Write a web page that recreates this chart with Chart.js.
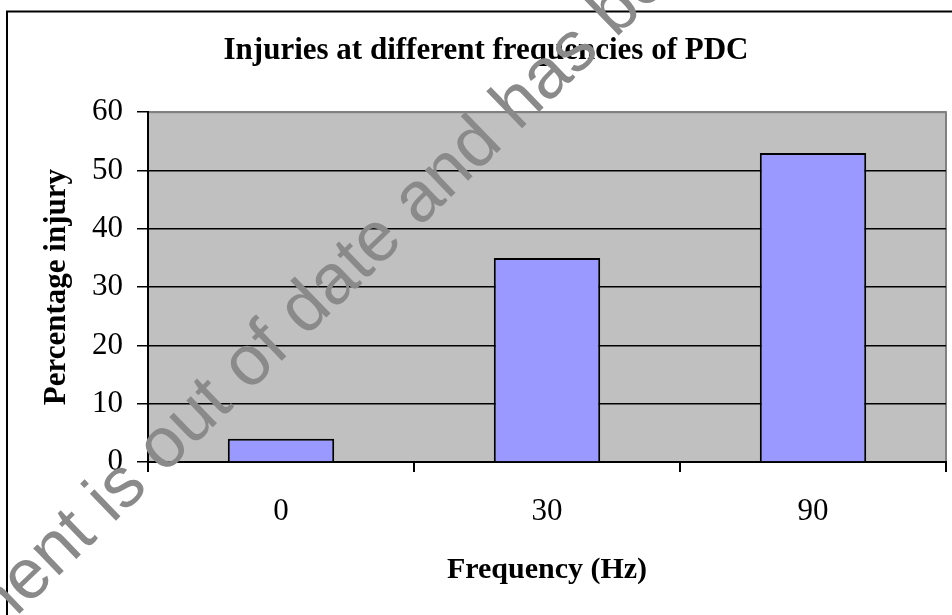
<!DOCTYPE html>
<html>
<head>
<meta charset="utf-8">
<script src="https://cdn.jsdelivr.net/npm/chart.js@4.4.1/dist/chart.umd.min.js"></script>
<style>
  html, body { margin: 0; padding: 0; background: #fff; }
  #wrap { width: 952px; height: 615px; }
</style>
</head>
<body>
<div id="wrap"><canvas id="injuryChart" width="952" height="615"></canvas></div>
<script>
// data
const frequencies = ['0', '30', '90'];
const injuryPercent = [4, 35, 53];
const yTicks = [0, 10, 20, 30, 40, 50, 60];

const chartTitle = 'Injuries at different frequencies of PDC';
const xTitle = 'Frequency (Hz)';
const yTitle = 'Percentage injury';
const watermarkText = 'document is out of date and has been';

const serif = "'Liberation Serif', 'Times New Roman', serif";

// outer frame + grey plot background
const backdrop = {
    id: 'backdrop',
    beforeDraw(chart) {
        const { ctx, chartArea } = chart;
        ctx.save();
        ctx.strokeStyle = '#000';
        ctx.lineWidth = 2;
        ctx.strokeRect(7, 11.5, 2000, 2000);
        ctx.fillStyle = '#c0c0c0';
        ctx.fillRect(chartArea.left, chartArea.top, chartArea.right - chartArea.left, chartArea.bottom - chartArea.top);
        ctx.strokeStyle = '#808080';
        ctx.strokeRect(chartArea.left, chartArea.top, chartArea.right - chartArea.left, chartArea.bottom - chartArea.top);
        ctx.restore();
    }
};

// diagonal grey watermark across the page
const watermark = {
    id: 'watermark',
    afterDraw(chart) {
        const ctx = chart.ctx;
        const size = 71;
        ctx.save();
        ctx.font = size + "px 'Liberation Sans', Arial, sans-serif";
        ctx.fillStyle = '#8a8a8a';
        ctx.textBaseline = 'alphabetic';
        ctx.textAlign = 'left';
        // anchor: middle of the "e" in "date"
        const idx = watermarkText.indexOf('date') + 3;
        const before = ctx.measureText(watermarkText.slice(0, idx)).width;
        const eWidth = ctx.measureText('e').width;
        ctx.translate(378, 242);
        ctx.rotate(-44 * Math.PI / 180);
        ctx.fillText(watermarkText, -(before + eWidth / 2), size * 0.26);
        ctx.restore();
    }
};

new Chart(document.getElementById('injuryChart'), {
    type: 'bar',
    data: {
        labels: frequencies,
        datasets: [{
            label: yTitle,
            data: injuryPercent,
            backgroundColor: '#9999ff',
            borderColor: '#000',
            borderWidth: 2,
            categoryPercentage: 1.0,
            barPercentage: 0.4
        }]
    },
    options: {
        responsive: false,
        animation: false,
        devicePixelRatio: 1,
        layout: { padding: { top: 0, left: 26, right: 6, bottom: 10 } },
        plugins: {
            legend: { display: false },
            tooltip: { enabled: false },
            title: {
                display: true,
                text: chartTitle,
                color: '#000',
                font: { family: serif, size: 31, weight: 'bold' },
                padding: { top: 32, bottom: 43 }
            }
        },
        scales: {
            x: {
                grid: {
                    offset: true,
                    drawOnChartArea: false,
                    drawTicks: true,
                    tickLength: 10,
                    tickColor: '#000',
                    color: '#000',
                    lineWidth: 2
                },
                border: { color: '#000', width: 2 },
                ticks: {
                    color: '#000',
                    font: { family: serif, size: 31 },
                    padding: 21,
                    maxRotation: 0
                },
                title: {
                    display: true,
                    text: xTitle,
                    color: '#000',
                    font: { family: serif, size: 30, weight: 'bold' },
                    padding: { top: 0, bottom: 17 }
                },
                afterFit(scale) { scale.height = 143; }
            },
            y: {
                min: 0,
                max: 60,
                afterBuildTicks(scale) { scale.ticks = yTicks.map(v => ({ value: v })); },
                grid: {
                    color: ctx => (ctx.tick && ctx.tick.value === 60 ? '#808080' : '#000'),
                    tickColor: '#000',
                    lineWidth: 1.5,
                    tickLength: 11
                },
                border: { color: '#000', width: 2 },
                ticks: {
                    color: '#000',
                    font: { family: serif, size: 31 },
                    padding: 14
                },
                title: {
                    display: true,
                    text: yTitle,
                    color: '#000',
                    font: { family: serif, size: 31, weight: 'bold' },
                    padding: { top: 12, bottom: 0 }
                },
                afterFit(scale) { scale.width = 122; }
            }
        }
    },
    plugins: [backdrop, watermark]
});
</script>
</body>
</html>
